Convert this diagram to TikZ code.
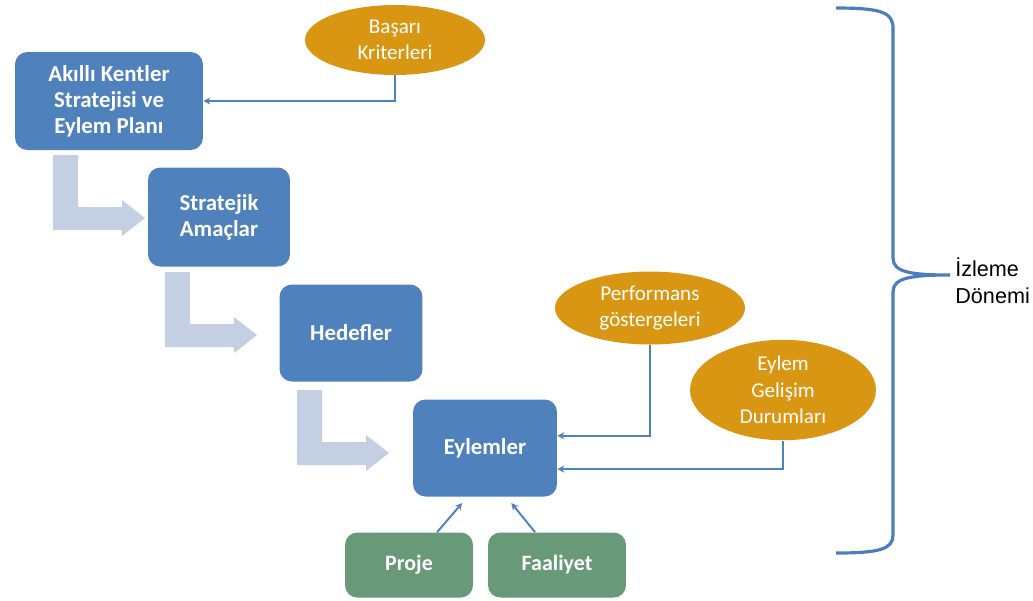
\documentclass[tikz,border=0pt]{standalone}
\usepackage{fontspec}
\setmainfont{Carlito}
\newfontfamily\labelfont{Liberation Sans}
\usetikzlibrary{shapes.geometric,arrows.meta}

\definecolor{boxblue}{HTML}{4F81BD}
\definecolor{ovalgold}{HTML}{D99613}
\definecolor{taskgreen}{HTML}{689A79}
\definecolor{flowgray}{HTML}{C5CFE3}
\definecolor{bracelue}{HTML}{4A7EC1}

\begin{document}
\begin{tikzpicture}
  [x=0.02cm,y=-0.02cm,
   stage/.style={rectangle,rounded corners=7pt,fill=boxblue,text=white,
     font=\fontsize{13}{14.7}\selectfont\bfseries,align=center,inner sep=2pt},
   oval/.style={ellipse,fill=ovalgold,text=white,
     font=\fontsize{12}{15}\selectfont,align=center,inner sep=1pt},
   task/.style={rectangle,rounded corners=7pt,fill=taskgreen,text=white,
     font=\fontsize{12.5}{14}\selectfont\bfseries,align=center},
   link/.style={draw=boxblue,line width=1.1pt,-{Stealth[length=4pt,width=4pt]}}]
  \useasboundingbox (0,0) rectangle (1033,600);

  % bent block arrows
  \foreach \ox/\oy in {53/155,165/272,297/390}
    \fill[flowgray,shift={(\ox,\oy)}] (0,0) -- (25,0) -- (25,52) -- (69,52)
      -- (69,45) -- (92,63) -- (69,81) -- (69,75) -- (0,75) -- cycle;

  \node[stage,minimum width=3.76cm,minimum height=1.96cm] (plan) at (109,101)
    {Akıllı Kentler\\Stratejisi ve\\Eylem Planı};
  \node[stage,minimum width=2.84cm,minimum height=1.98cm] (amac) at (219,217)
    {Stratejik\\Amaçlar};
  \node[stage,minimum width=2.86cm,minimum height=1.94cm] (hedef) at (351,333)
    {Hedefler};
  \node[stage,minimum width=2.88cm,minimum height=1.94cm] (eylem) at (485,448)
    {Eylemler};

  \node[oval,minimum width=3.6cm,minimum height=1.4cm] (kriter) at (395,40)
    {Başarı\\Kriterleri};
  \node[oval,minimum width=3.8cm,minimum height=1.46cm] (perf) at (650,308)
    {Performans\\göstergeleri};
  \node[oval,minimum width=3.72cm,minimum height=1.8cm] (durum) at (783,390)
    {Eylem\\Gelişim\\Durumları};

  \node[task,minimum width=2.56cm,minimum height=1.3cm] (proje) at (409,565)
    {Proje};
  \node[task,minimum width=2.76cm,minimum height=1.3cm] (faal) at (557,565)
    {Faaliyet};

  \draw[link] (kriter.south) |- (plan.east);
  \draw[link] (perf.south) |- ([yshift=7pt]eylem.east);
  \draw[link] (durum.south) |- ([yshift=-12pt]eylem.east);
  \draw[link] ([xshift=16pt]proje.north) -- ([xshift=-13pt,yshift=-3.5pt]eylem.south);
  \draw[link] ([xshift=-12.5pt]faal.north) -- ([xshift=15pt,yshift=-3.5pt]eylem.south);

  % brace
  \draw[bracelue,line width=1.8pt]
    (836,8) .. controls (880,8) and (893,12) .. (893,28) -- (893,258)
    .. controls (893,272) and (910,275) .. (950,275)
    .. controls (910,275) and (893,278) .. (893,292) -- (893,535)
    .. controls (893,549) and (880,553) .. (836,553);
  \node[anchor=west,align=left,font=\labelfont\fontsize{12.3}{15.5}\selectfont,
    inner sep=0pt] (izleme) at (955,281) {İzleme\\Dönemi};
\end{tikzpicture}
\end{document}
